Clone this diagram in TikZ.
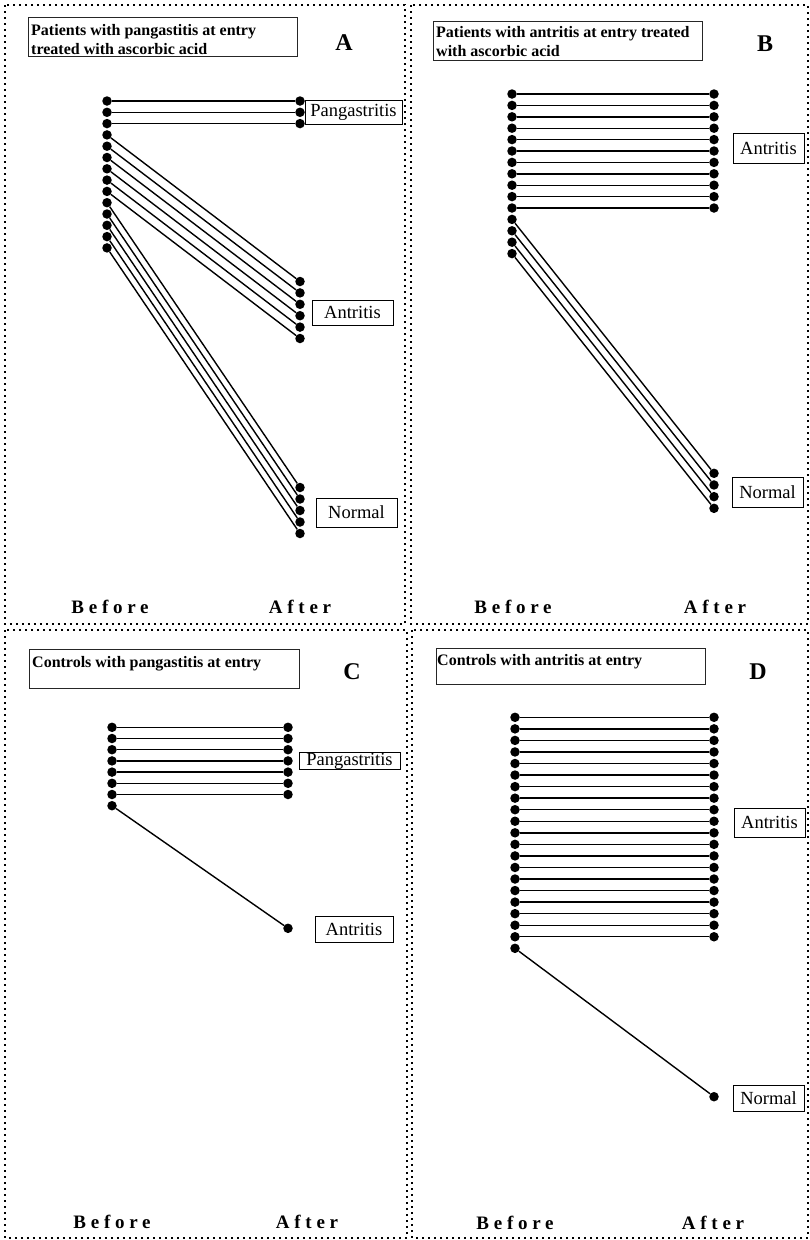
\documentclass[tikz,border=0pt]{standalone}
\usepackage{fontspec}
\setmainfont{Liberation Serif}
\newfontfamily\spacedfont[LetterSpace=25]{Liberation Serif}
\tikzset{
  dot/.style={circle, fill=black, inner sep=0pt, minimum size=9.5pt},
  link/.style={line width=1.4pt},
  frame/.style={line width=2pt, dash pattern=on 2pt off 4pt},
  titlebox/.style={draw=black!85, line width=1pt, inner sep=0pt},
  titletext/.style={font=\fontsize{16}{19}\selectfont\bfseries, align=left, inner sep=0pt, anchor=north west},
  statebox/.style={draw, line width=1pt, inner sep=0.5pt, font=\fontsize{18.5}{22}\selectfont},
  panel/.style={font=\fontsize{24}{28}\selectfont\bfseries},
  axis/.style={font=\fontsize{19}{22}\spacedfont\bfseries}
}

\begin{document}
\begin{tikzpicture}[x=1pt, y=-1pt]
\useasboundingbox (0,0) rectangle (810,1240);
% panel frames
\draw[frame] (5,5) rectangle (405,624);
\draw[frame] (411,5) rectangle (808,624);
\draw[frame] (5,630) rectangle (407,1238);
\draw[frame] (412,630) rectangle (808,1238);

% A
\node[titlebox, minimum width=269pt, minimum height=39pt] (boxA) at (162.5,36.5) {};
\node[titletext] (titleA) at (31,24) {Patients with pangastitis at entry\\treated with ascorbic acid};
\node[panel] (A) at (344,43) {A};
\foreach \i in {1,...,14}
  \node[dot] (bA\i) at (107,{101+11.3*(\i-1)}) {};
\foreach \y [count=\i] in {101,112.3,123.6,281.5,292.9,304.3,315.7,327.1,338.5,487.5,499,510.5,522,533.5}
  \node[dot] (fA\i) at (300,\y) {};
\foreach \i in {1,...,14}
  \draw[link] (bA\i) -- (fA\i);
\node[statebox, minimum width=97pt, minimum height=24pt] (pangA) at (353.5,112) {Pangastritis};
\node[statebox, minimum width=81pt, minimum height=25pt] (antrA) at (352.5,312.5) {Antritis};
\node[statebox, minimum width=81pt, minimum height=29pt] (normA) at (356.5,512.5) {Normal};
\node[axis] (befA) at (110,607) {Before};
\node[axis] (aftA) at (300,607) {After};

% B
\node[titlebox, minimum width=269pt, minimum height=39pt] (boxB) at (567.5,40.5) {};
\node[titletext] (titleB) at (436,26) {Patients with antritis at entry treated\\with ascorbic acid};
\node[panel] (B) at (765,44) {B};
\foreach \i in {1,...,15}
  \node[dot] (bB\i) at (512,{94+11.4*(\i-1)}) {};
\foreach \i in {1,...,11}
  \node[dot] (fB\i) at (714,{94+11.4*(\i-1)}) {};
\foreach \i [count=\j from 12] in {1,...,4}
  \node[dot] (fB\j) at (714,{473.3+11.67*(\i-1)}) {};
\foreach \i in {1,...,15}
  \draw[link] (bB\i) -- (fB\i);
\node[statebox, minimum width=71pt, minimum height=30pt] (antrB) at (768.5,148) {Antritis};
\node[statebox, minimum width=71pt, minimum height=30pt] (normB) at (767.5,492) {Normal};
\node[axis] (befB) at (513,607) {Before};
\node[axis] (aftB) at (715,607) {After};

% C
\node[titlebox, minimum width=270pt, minimum height=39pt] (boxC) at (164,668.5) {};
\node[titletext] (titleC) at (32,656) {Controls with pangastitis at entry};
\node[panel] (C) at (352,672) {C};
\foreach \i in {1,...,8}
  \node[dot] (bC\i) at (112,{727.3+11.2*(\i-1)}) {};
\foreach \i in {1,...,7}
  \node[dot] (fC\i) at (288,{727.3+11.2*(\i-1)}) {};
\node[dot] (fC8) at (288,928.3) {};
\foreach \i in {1,...,8}
  \draw[link] (bC\i) -- (fC\i);
\node[statebox, minimum width=101pt, minimum height=17pt] (pangC) at (349.5,761.3) {Pangastritis};
\node[statebox, minimum width=78pt, minimum height=26pt] (antrC) at (354,929) {Antritis};
\node[axis] (befC) at (112,1222) {Before};
\node[axis] (aftC) at (307,1222) {After};

% D
\node[titlebox, minimum width=269pt, minimum height=36pt] (boxD) at (570.5,666) {};
\node[titletext] (titleD) at (437,654) {Controls with antritis at entry};
\node[panel] (D) at (758,672) {D};
\foreach \i in {1,...,21}
  \node[dot] (bD\i) at (515,{717.3+11.55*(\i-1)}) {};
\foreach \i in {1,...,20}
  \node[dot] (fD\i) at (714,{717.3+11.55*(\i-1)}) {};
\node[dot] (fD21) at (714,1096.7) {};
\foreach \i in {1,...,21}
  \draw[link] (bD\i) -- (fD\i);
\node[statebox, minimum width=71pt, minimum height=29pt] (antrD) at (769.5,822.5) {Antritis};
\node[statebox, minimum width=71pt, minimum height=26pt] (normD) at (768.5,1098) {Normal};
\node[axis] (befD) at (515,1223) {Before};
\node[axis] (aftD) at (713,1223) {After};
\end{tikzpicture}
\end{document}
